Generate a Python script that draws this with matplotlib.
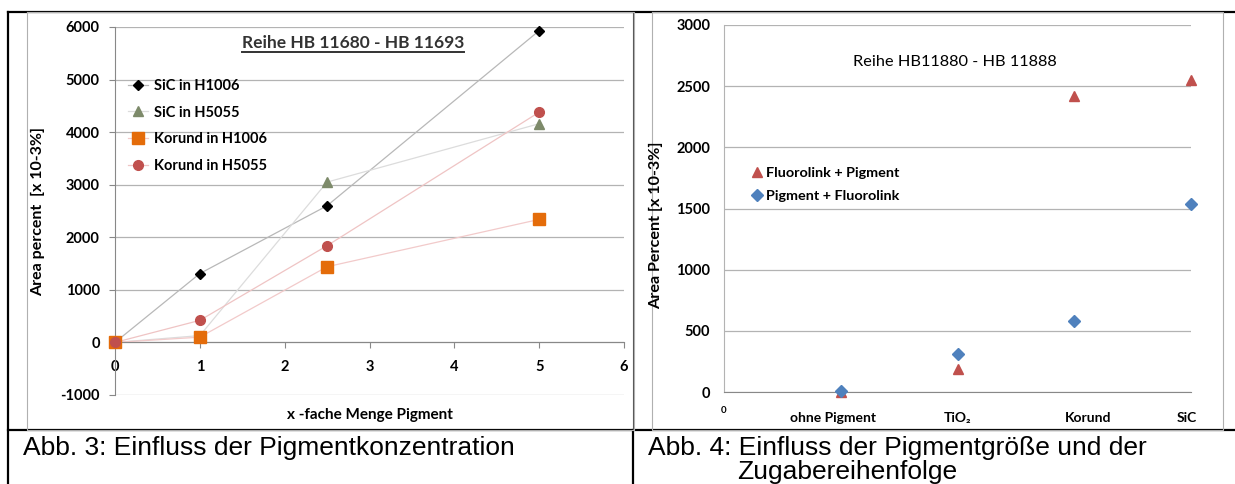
import matplotlib
matplotlib.use("Agg")
import matplotlib.pyplot as plt
from matplotlib.lines import Line2D

# Abb. 3: Einfluss der Pigmentkonzentration (Reihe HB 11680 - HB 11693)
menge = [0, 1, 2.5, 5]
sic_h1006 = [0, 1310, 2600, 5930]
sic_h5055 = [0, 130, 3050, 4160]
korund_h1006 = [0, 100, 1440, 2340]
korund_h5055 = [0, 420, 1840, 4380]

# Abb. 4: Einfluss der Pigmentgröße und der Zugabereihenfolge (Reihe HB11880 - HB 11888)
pigmente = ["ohne Pigment", "TiO₂", "Korund", "SiC"]
pigment_pos = [1, 2, 3, 4]
fluorolink_pigment = [0, 190, 2420, 2550]
pigment_fluorolink = [10, 310, 580, 1535]

plt.rcParams["font.family"] = ["Lato", "DejaVu Sans"]
plt.rcParams["axes.unicode_minus"] = False

W, H = 1235, 484
fig = plt.figure(figsize=(W / 100, H / 100), dpi=100)


def box(x0, y0, x1, y1):
    # pixel rectangle (top-left origin) -> figure fraction
    return [x0 / W, 1 - y1 / H, (x1 - x0) / W, (y1 - y0) / H]


# background layer: table grid, chart frames, captions
bg = fig.add_axes([0, 0, 1, 1], zorder=-5)
bg.set_xlim(0, W)
bg.set_ylim(H, 0)
bg.axis("off")
bg.plot([8, W], [12, 12], color="black", lw=1.6)
bg.plot([8, W], [430, 430], color="black", lw=1.6)
bg.plot([8, 8], [12, H], color="black", lw=1.6)
bg.plot([633, 633], [430, H], color="black", lw=1.6)
bg.plot([633, 633], [12, 430], color="#555555", lw=0.8)
for x0, x1 in [(27, 634), (652, 1223)]:
    bg.plot([x0, x1, x1, x0, x0], [12, 12, 430, 430, 12], color="#b0b0b0", lw=0.8)
cap = dict(family=["Liberation Sans", "DejaVu Sans"], fontsize=19, va="baseline", ha="left")
bg.text(23, 455, "Abb. 3: Einfluss der Pigmentkonzentration", **cap)
bg.text(648, 455, "Abb. 4: Einfluss der Pigmentgröße und der", **cap)
bg.text(737, 478.5, "Zugabereihenfolge", **cap)

grid_c = "#b3b3b3"
axis_c = "#888888"

# ---- Abb. 3 ----
ax1 = fig.add_axes(box(115, 27, 624, 395))
ax1.set_xlim(0, 6)
ax1.set_ylim(-1000, 6000)
ax1.set_yticks(range(-1000, 6001, 1000))
ax1.set_xticks(range(0, 7))
ax1.grid(axis="y", color=grid_c, lw=0.9)
ax1.set_axisbelow(True)
for s in ["top", "right"]:
    ax1.spines[s].set_visible(False)
ax1.spines["left"].set_color(axis_c)
ax1.spines["bottom"].set_color(axis_c)
ax1.spines["bottom"].set_position(("data", 0))
ax1.tick_params(axis="x", length=4, color=axis_c, pad=8.5, labelsize=10.5)
ax1.tick_params(axis="y", length=4, color=axis_c, pad=7, labelsize=10.5)
for lab in ax1.get_xticklabels() + ax1.get_yticklabels():
    lab.set_fontweight("bold")

series1 = [
    ("SiC in H1006", sic_h1006, "D", "black", 5.5, "#b8b8b8"),
    ("SiC in H5055", sic_h5055, "^", "#7d8a6a", 7, "#dcdcdc"),
    ("Korund in H1006", korund_h1006, "s", "#e46c0a", 8, "#f2caca"),
    ("Korund in H5055", korund_h5055, "o", "#c0504d", 7, "#efc4c4"),
]
handles = []
for name, vals, mk, col, ms, lc in series1:
    ax1.plot(menge, vals, color=lc, lw=0.9, zorder=2)
    ax1.plot(menge, vals, ls="none", marker=mk, color=col, ms=ms, mec=col, zorder=3, clip_on=False)
    handles.append(Line2D([], [], color=lc, lw=0.9, marker=mk, ms=ms, mfc=col, mec=col, label=name))

leg1 = ax1.legend(handles=handles, loc="upper left", bbox_to_anchor=(128 / W, 1 - 79 / H),
                  bbox_transform=fig.transFigure, frameon=False, borderpad=0, borderaxespad=0,
                  handlelength=1.4, handletextpad=0.35, labelspacing=0.86, fontsize=10.5)
for t in leg1.get_texts():
    t.set_fontweight("bold")

ax1.set_xlabel("x -fache Menge Pigment", fontsize=11, fontweight="bold")
ax1.xaxis.set_label_coords(370 / W, 1 - 408 / H, transform=fig.transFigure)
ax1.set_ylabel("Area percent  [x 10-3%]", fontsize=11.5, fontweight="bold")
ax1.yaxis.set_label_coords(45 / W, 1 - 212 / H, transform=fig.transFigure)

title1 = fig.text(353 / W, 1 - 43 / H, "Reihe HB 11680 - HB 11693", ha="center", va="center",
                  fontsize=12.5, fontweight="bold", color="#333333")

# ---- Abb. 4 ----
ax2 = fig.add_axes(box(724, 25, 1191, 392))
ax2.set_xlim(0, 4)
ax2.set_ylim(0, 3000)
ax2.set_yticks(range(0, 3001, 500))
ax2.set_xticks([0])
ax2.grid(axis="y", color=grid_c, lw=0.9)
ax2.set_axisbelow(True)
for s in ["top", "right"]:
    ax2.spines[s].set_visible(False)
ax2.spines["left"].set_color(grid_c)
ax2.spines["bottom"].set_color(axis_c)
ax2.tick_params(axis="y", length=0, pad=10, labelsize=10.5)
ax2.tick_params(axis="x", length=0, pad=10, labelsize=7)
for lab in ax2.get_xticklabels() + ax2.get_yticklabels():
    lab.set_fontweight("bold")

ax2.plot(pigment_pos, fluorolink_pigment, ls="none", marker="^", ms=7.5, color="#c0504d",
         label="Fluorolink + Pigment", clip_on=False, zorder=3)
ax2.plot(pigment_pos, pigment_fluorolink, ls="none", marker="D", ms=6, color="#4f81bd",
         label="Pigment + Fluorolink", clip_on=False, zorder=4)
leg2 = ax2.legend(loc="upper left", bbox_to_anchor=(753 / W, 1 - 167 / H),
                  bbox_transform=fig.transFigure, frameon=False, borderpad=0, borderaxespad=0,
                  handlelength=0.6, handletextpad=0.3, labelspacing=0.76, fontsize=10.4)
for t in leg2.get_texts():
    t.set_fontweight("bold")

label_shift = [-8, 0, 14, -4]
for name, pos, dx in zip(pigmente, pigment_pos, label_shift):
    ax2.annotate(name, xy=(pos, 0), xycoords=("data", "axes fraction"), xytext=(dx, -26),
                 textcoords="offset pixels", ha="center", va="center", fontsize=10,
                 fontweight="bold")

ax2.set_ylabel("Area Percent [x 10-3%]", fontsize=11.6, fontweight="bold")
ax2.yaxis.set_label_coords(663 / W, 1 - 225 / H, transform=fig.transFigure)
fig.text(955 / W, 1 - 62 / H, "Reihe HB11880 - HB 11888", ha="center", va="center", fontsize=11.8)

# underline for the left chart title
fig.canvas.draw()
bb = title1.get_window_extent()
fig.add_artist(Line2D([bb.x0 / W, bb.x1 / W], [(bb.y0 - 1) / H] * 2, color="#333333", lw=1.4))

fig.savefig("out.png", dpi=100)
